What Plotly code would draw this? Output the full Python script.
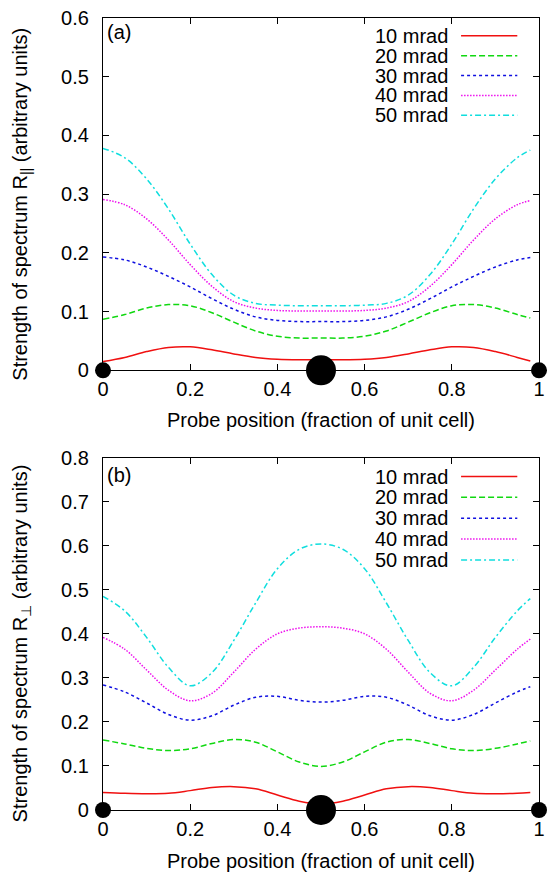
import plotly.graph_objects as go

# ---------------- data ----------------
x_pos = [0, 0.05, 0.1, 0.15, 0.2, 0.25, 0.3, 0.35, 0.4, 0.45, 0.5,
         0.55, 0.6, 0.65, 0.7, 0.75, 0.8, 0.85, 0.9, 0.95, 0.98]
series_names = ["10 mrad", "20 mrad", "30 mrad", "40 mrad", "50 mrad"]

# panel (a): R_parallel
a_10 = [0.015, 0.022, 0.032, 0.039, 0.040, 0.035, 0.028, 0.022, 0.019, 0.018, 0.018,
        0.018, 0.019, 0.022, 0.028, 0.035, 0.040, 0.039, 0.032, 0.022, 0.016]
a_20 = [0.087, 0.095, 0.106, 0.112, 0.110, 0.098, 0.082, 0.067, 0.058, 0.055, 0.055,
        0.055, 0.058, 0.067, 0.082, 0.098, 0.110, 0.112, 0.106, 0.095, 0.089]
a_30 = [0.193, 0.188, 0.176, 0.160, 0.142, 0.122, 0.104, 0.091, 0.085, 0.083, 0.083,
        0.083, 0.085, 0.091, 0.104, 0.122, 0.142, 0.160, 0.176, 0.188, 0.192]
a_40 = [0.291, 0.282, 0.258, 0.222, 0.180, 0.143, 0.117, 0.106, 0.102, 0.101, 0.101,
        0.101, 0.102, 0.106, 0.117, 0.143, 0.180, 0.222, 0.258, 0.282, 0.289]
a_50 = [0.378, 0.362, 0.326, 0.275, 0.215, 0.163, 0.128, 0.114, 0.111, 0.110, 0.110,
        0.110, 0.111, 0.114, 0.128, 0.163, 0.215, 0.275, 0.326, 0.362, 0.375]

# panel (b): R_perp
b_10 = [0.040, 0.038, 0.037, 0.038, 0.044, 0.051, 0.053, 0.048, 0.034, 0.020, 0.014,
        0.020, 0.034, 0.048, 0.053, 0.051, 0.044, 0.038, 0.037, 0.038, 0.040]
b_20 = [0.159, 0.150, 0.140, 0.135, 0.139, 0.151, 0.160, 0.154, 0.132, 0.109, 0.099,
        0.109, 0.132, 0.154, 0.160, 0.151, 0.139, 0.135, 0.140, 0.150, 0.157]
b_30 = [0.284, 0.268, 0.243, 0.217, 0.204, 0.214, 0.238, 0.256, 0.258, 0.249, 0.245,
        0.249, 0.258, 0.256, 0.238, 0.214, 0.204, 0.217, 0.243, 0.268, 0.280]
b_40 = [0.392, 0.365, 0.318, 0.272, 0.248, 0.265, 0.313, 0.365, 0.400, 0.413, 0.416,
        0.413, 0.400, 0.365, 0.313, 0.265, 0.248, 0.272, 0.318, 0.365, 0.388]
b_50 = [0.485, 0.452, 0.392, 0.324, 0.282, 0.312, 0.385, 0.470, 0.548, 0.592, 0.604,
        0.592, 0.548, 0.470, 0.385, 0.312, 0.282, 0.324, 0.392, 0.452, 0.480]

# atom positions drawn on the x axis
atom_x = [0, 0.5, 1]
atom_y = [0, 0, 0]
atom_size = [16, 30, 16]

x_ticks = [0, 0.2, 0.4, 0.6, 0.8, 1]
a_yticks = [0, 0.1, 0.2, 0.3, 0.4, 0.5, 0.6]
b_yticks = [0, 0.1, 0.2, 0.3, 0.4, 0.5, 0.6, 0.7, 0.8]

# ---------------- styles ----------------
colors = ["#f01010", "#10d810", "#1010e0", "#ee10ee", "#10dede"]
dashes = ["solid", "6px,3px", "3px,3px", "1.5px,1.5px", "6px,3px,2px,3px"]
FONT = "Liberation Sans, Arial, Helvetica, sans-serif"
FS = 20
W, H = 552, 874
L, R, T, B = 103, 7, 12, 64
PW, PH = W - L - R, H - T - B


def px_x(px):
    return (px - L) / PW


def px_y(py):
    return (H - B - py) / PH


fig = go.Figure()
panels = [("x", "y", [a_10, a_20, a_30, a_40, a_50]),
          ("x2", "y2", [b_10, b_20, b_30, b_40, b_50])]
for xa, ya, data in panels:
    for name, vals, c, d in zip(series_names, data, colors, dashes):
        fig.add_trace(go.Scatter(x=x_pos, y=vals, mode="lines", name=name,
                                 line=dict(color=c, width=1.5, dash=d, shape="spline", smoothing=1.0),
                                 xaxis=xa, yaxis=ya, showlegend=False))
    fig.add_trace(go.Scatter(x=atom_x, y=atom_y, mode="markers",
                             marker=dict(color="#000000", size=atom_size, opacity=1,
                                         line=dict(width=0, color="#000000")),
                             opacity=1, xaxis=xa, yaxis=ya, showlegend=False, cliponaxis=False))

axis_common = dict(ticks="inside", ticklen=6, tickwidth=1,
                   tickcolor="black", showline=True, linecolor="black", linewidth=1.3,
                   mirror="ticks", showgrid=False, zeroline=False,
                   tickfont=dict(family=FONT, size=FS, color="black"))
fig.update_layout(
    width=W, height=H, margin=dict(l=L, r=R, t=T, b=B),
    paper_bgcolor="white", plot_bgcolor="white", showlegend=False,
    xaxis=dict(axis_common, range=[0, 1], tickvals=x_ticks, domain=[0, 1], anchor="y",
               ticklabelstandoff=1),
    yaxis=dict(axis_common, range=[0, 0.6], tickvals=a_yticks, domain=[px_y(367), 1], anchor="x",
               ticklabelstandoff=9),
    xaxis2=dict(axis_common, range=[0, 1], tickvals=x_ticks, domain=[0, 1], anchor="y2",
                ticklabelstandoff=1),
    yaxis2=dict(axis_common, range=[0, 0.8], tickvals=b_yticks, domain=[0, px_y(455)], anchor="x2",
                ticklabelstandoff=9),
)

ann = []
shapes = []
# axis titles
for yc, label in [(200, "Strength of spectrum R<sub>||</sub> (arbitrary units)"),
                  (642, "Strength of spectrum R<sub>⊥</sub> (arbitrary units)")]:
    ann.append(dict(x=px_x(20), y=px_y(yc), xref="paper", yref="paper", text=label,
                    textangle=-90, showarrow=False, xanchor="center", yanchor="middle",
                    font=dict(family=FONT, size=FS, color="black")))
for yc in [417, 861]:
    ann.append(dict(x=px_x(324), y=px_y(yc), xref="paper", yref="paper",
                    text="Probe position (fraction of unit cell)", showarrow=False,
                    xanchor="center", yanchor="middle",
                    font=dict(family=FONT, size=FS, color="black")))
# panel labels
for yc, lab in [(26, "(a)"), (472, "(b)")]:
    ann.append(dict(x=px_x(105), y=px_y(yc), xref="paper", yref="paper", text=lab,
                    showarrow=False, xanchor="left", yanchor="middle",
                    font=dict(family=FONT, size=FS, color="black")))
# legends (gnuplot style: text left, sample right)
for rows in [[30, 50, 70, 90, 110], [474, 495, 516, 537, 558]]:
    for yc, name, c, d in zip(rows, series_names, colors, dashes):
        ann.append(dict(x=px_x(455), y=px_y(yc), xref="paper", yref="paper", text=name,
                        showarrow=False, xanchor="right", yanchor="middle",
                        font=dict(family=FONT, size=FS, color="black")))
        shapes.append(dict(type="line", xref="paper", yref="paper",
                           x0=px_x(466), x1=px_x(523), y0=px_y(yc), y1=px_y(yc),
                           line=dict(color=c, width=1.5, dash=d)))
fig.update_layout(annotations=ann, shapes=shapes)

fig.write_html("out.html")
